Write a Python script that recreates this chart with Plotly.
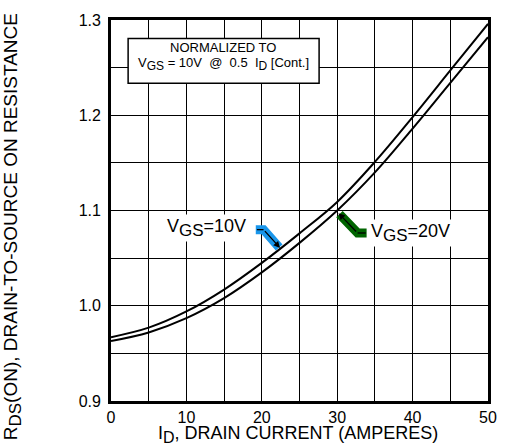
import plotly.graph_objects as go

# Data
drain_current = [0, 5, 10, 15, 20, 25, 30, 35, 40, 45, 50]
rds_vgs10 = [0.967, 0.977, 0.994, 1.017, 1.045, 1.076, 1.109, 1.151, 1.198, 1.247, 1.296]
rds_vgs20 = [0.963, 0.972, 0.987, 1.008, 1.035, 1.066, 1.100, 1.140, 1.186, 1.234, 1.282]

x_ticks = [0, 10, 20, 30, 40, 50]
y_ticks = [0.9, 1.0, 1.1, 1.2, 1.3]
y_tick_text = ["0.9", "1.0", "1.1", "1.2", "1.3"]

FONT = "Liberation Sans, Arial, Helvetica, sans-serif"


def sub(txt, size):
    return '<sub><span style="font-size:%dpx">%s</span></sub>' % (size, txt)


fig = go.Figure()
fig.add_trace(go.Scatter(x=drain_current, y=rds_vgs10, mode="lines",
                         line=dict(color="black", width=2, shape="spline", smoothing=1.0),
                         name="VGS=10V", showlegend=False, hoverinfo="skip"))
fig.add_trace(go.Scatter(x=drain_current, y=rds_vgs20, mode="lines",
                         line=dict(color="black", width=2, shape="spline", smoothing=1.0),
                         name="VGS=20V", showlegend=False, hoverinfo="skip"))

axis_common = dict(showline=True, linecolor="black", linewidth=2.8, mirror=True,
                   showgrid=True, gridcolor="black", gridwidth=1.4,
                   ticks="", zeroline=False,
                   tickfont=dict(family=FONT, size=16, color="black"))

fig.update_xaxes(range=[0, 50], tickvals=x_ticks, ticklabelstandoff=0,
                 minor=dict(dtick=5, tick0=0, showgrid=True, gridcolor="black", gridwidth=1.4),
                 **axis_common)
fig.update_yaxes(range=[0.9, 1.3], tickvals=y_ticks, ticktext=y_tick_text, ticklabelstandoff=4,
                 minor=dict(dtick=0.05, tick0=0.9, showgrid=True, gridcolor="black", gridwidth=1.4),
                 **axis_common)

# Normalization box
fig.add_shape(type="rect", xref="x", yref="y", x0=2.27, x1=27.6, y0=1.2336, y1=1.2805,
              line=dict(color="black", width=1.5), fillcolor="white", layer="above")
fig.add_annotation(x=14.9, y=1.271, xref="x", yref="y", text="NORMALIZED TO",
                   showarrow=False, font=dict(family=FONT, size=13, color="black"))
fig.add_annotation(x=14.9, y=1.2535, xref="x", yref="y",
                   text="V" + sub("GS", 12) + " = 10V  @  0.5  I" + sub("D", 12) + " [Cont.]",
                   showarrow=False, font=dict(family=FONT, size=13, color="black"))

# Blue arrow (VGS=10V)
fig.add_shape(type="path", xref="x", yref="y",
              path="M 19.2 1.0799 L 20.23 1.0799 L 22.3 1.0612",
              line=dict(color="rgb(25,150,235)", width=9), layer="above")
fig.add_shape(type="path", xref="x", yref="y",
              path="M 19.35 1.0799 L 20.23 1.0799",
              line=dict(color="black", width=1.3), layer="above")
fig.add_annotation(x=22.42, y=1.0607, ax=20.23, ay=1.0799, xref="x", yref="y",
                   axref="x", ayref="y", text="", showarrow=True,
                   arrowhead=2, arrowsize=1, arrowwidth=1.3, arrowcolor="black")

# Green arrow (VGS=20V)
fig.add_shape(type="path", xref="x", yref="y",
              path="M 30.3 1.0962 L 32.70 1.0764 L 33.9 1.0764",
              line=dict(color="rgb(0,100,0)", width=9), layer="above")
fig.add_shape(type="path", xref="x", yref="y",
              path="M 32.70 1.0764 L 33.79 1.0764",
              line=dict(color="black", width=1.3), layer="above")
fig.add_annotation(x=30.17, y=1.0972, ax=32.70, ay=1.0764, xref="x", yref="y",
                   axref="x", ayref="y", text="", showarrow=True,
                   arrowhead=2, arrowsize=1, arrowwidth=1.3, arrowcolor="black")

# Curve labels
fig.add_annotation(x=18.12, y=1.0815, xref="x", yref="y", xanchor="right",
                   text="V" + sub("GS", 17) + "=10V", showarrow=False, bgcolor="white",
                   font=dict(family=FONT, size=18, color="black"))
fig.add_annotation(x=34.24, y=1.0765, xref="x", yref="y", xanchor="left",
                   text="V" + sub("GS", 17) + "=20V", showarrow=False, bgcolor="white",
                   font=dict(family=FONT, size=18, color="black"))

# Axis titles
fig.add_annotation(x=-0.2625, y=0.456, xref="paper", yref="paper", xanchor="center", yanchor="middle",
                   textangle=-90, showarrow=False,
                   text="R" + sub("DS", 17) + "(ON), DRAIN-TO-SOURCE ON RESISTANCE",
                   font=dict(family=FONT, size=19, color="black"))
fig.add_annotation(x=0.495, y=-0.053, xref="paper", yref="paper", xanchor="center", yanchor="top",
                   showarrow=False,
                   text="I" + sub("D", 16) + ", DRAIN CURRENT (AMPERES)",
                   font=dict(family=FONT, size=18, color="black"))

fig.update_layout(width=509, height=448, margin=dict(l=111, r=17, t=17, b=47),
                  paper_bgcolor="white", plot_bgcolor="white", showlegend=False)

fig.write_html("out.html")
